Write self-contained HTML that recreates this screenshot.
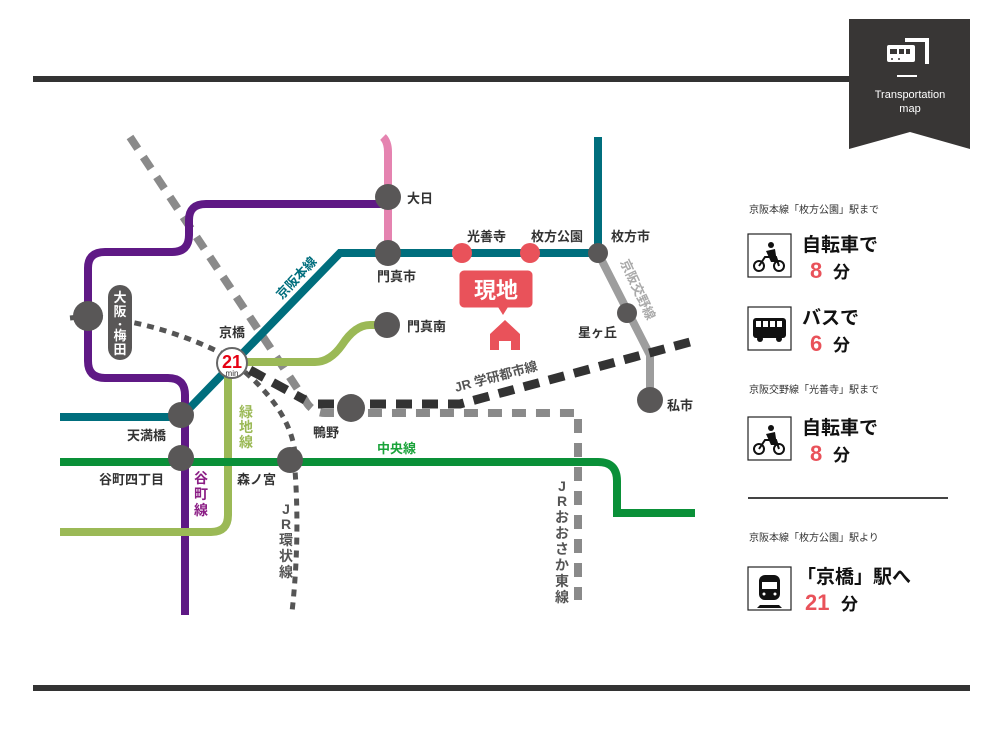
<!DOCTYPE html>
<html><head><meta charset="utf-8"><style>
html,body{margin:0;padding:0;background:#fff;}
svg{display:block;font-family:"Liberation Sans","Noto Sans CJK JP",sans-serif;}
</style></head><body>
<svg width="1000" height="750" viewBox="0 0 1000 750" xmlns="http://www.w3.org/2000/svg">
<rect x="33" y="76" width="817" height="6" fill="#333"/>
<rect x="33" y="685" width="937" height="6" fill="#333"/>
<polygon points="849,19 970,19 970,149 910,132 849,149" fill="#383635"/>
<g fill="#fff">
<rect x="887" y="45" width="28" height="17" rx="2"/>
<rect x="905" y="38" width="24" height="4"/>
<rect x="925" y="38" width="4" height="26"/>
<rect x="897" y="75" width="20" height="2"/>
</g>
<g fill="#383635"><rect x="890" y="49" width="7" height="5"/><rect x="899" y="49" width="5" height="5"/><rect x="906" y="49" width="4" height="5"/><circle cx="892" cy="59" r="1"/><circle cx="899" cy="59" r="1"/></g>
<text x="910" y="98" font-size="11" fill="#fff" text-anchor="middle">Transportation</text>
<text x="910" y="112" font-size="11" fill="#fff" text-anchor="middle">map</text>

<path d="M130,137 L305,400 Q312,413 325,413 L578,413 L578,600" fill="none" stroke="#8a8a8a" stroke-width="8" stroke-dasharray="14,10"/>
<path d="M185,615 L185,395 Q185,378 168,378 L105,378 Q88,378 88,361 L88,268 Q88,252 105,252 L172,252 Q189,252 189,235 L189,220 Q189,204 206,204 L388,204" fill="none" stroke="#5f1985" stroke-width="8"/>
<path d="M383,137 Q388,142 388,152 L388,253" fill="none" stroke="#e583b0" stroke-width="8"/>
<path d="M60,417 L181,417 L340,253 L598,253 L598,137" fill="none" stroke="#006e7d" stroke-width="8"/>
<path d="M598,253 L650,355 L650,400" fill="none" stroke="#9d9d9d" stroke-width="8"/>
<path d="M232,362 L315,362 Q330,362 342,345 Q355,325 370,325 L385,325" fill="none" stroke="#9bb956" stroke-width="8"/>
<path d="M228,362 L228,515 Q228,532 211,532 L60,532" fill="none" stroke="#9bb956" stroke-width="8"/>
<path d="M60,462 L598,462 Q617,462 617,481 L617,513 L695,513" fill="none" stroke="#0a9038" stroke-width="8"/>
<path d="M70,318 L88,316 Q160,322 225,355" fill="none" stroke="#555" stroke-width="5" stroke-dasharray="7,6"/>
<path d="M245,372 Q300,420 295,470 Q300,540 292,612" fill="none" stroke="#555" stroke-width="5" stroke-dasharray="7,6"/>
<path d="M250,370 L305,400 M318,404 L460,404 L690,342" fill="none" stroke="#333" stroke-width="9" stroke-dasharray="16,10"/>

<g fill="#595757">
<circle cx="88" cy="316" r="15"/>
<circle cx="181" cy="415" r="13"/>
<circle cx="181" cy="458" r="13"/>
<circle cx="290" cy="460" r="13"/>
<circle cx="351" cy="408" r="14"/>
<circle cx="388" cy="253" r="13"/>
<circle cx="388" cy="197" r="13"/>
<circle cx="387" cy="325" r="13"/>
<circle cx="598" cy="253" r="10"/>
<circle cx="627" cy="313" r="10"/>
<circle cx="650" cy="400" r="13"/>
</g>
<g fill="#e9525a"><circle cx="462" cy="253" r="10"/><circle cx="530" cy="253" r="10"/></g>
<circle cx="232" cy="363" r="15" fill="#fff" stroke="#666" stroke-width="2"/>
<text x="232" y="368" font-size="18" font-weight="bold" fill="#e60012" text-anchor="middle">21</text>
<text x="232" y="376" font-size="8" fill="#333" text-anchor="middle">min</text>

<rect x="108" y="285" width="24" height="75" rx="12" fill="#595757"/>
<g font-size="13" font-weight="bold" fill="#fff" text-anchor="middle">
<text x="120" y="302">大</text><text x="120" y="316">阪</text><text x="120" y="328" font-size="10">・</text><text x="120" y="340">梅</text><text x="120" y="354">田</text>
</g>

<g font-size="13" font-weight="bold" fill="#333">
<text x="219" y="337">京橋</text>
<text x="127" y="440">天満橋</text>
<text x="99" y="484">谷町四丁目</text>
<text x="237" y="484">森ノ宮</text>
<text x="313" y="437">鴨野</text>
<text x="407" y="203">大日</text>
<text x="377" y="281">門真市</text>
<text x="407" y="331">門真南</text>
<text x="467" y="241">光善寺</text>
<text x="531" y="241">枚方公園</text>
<text x="611" y="241">枚方市</text>
<text x="578" y="337">星ヶ丘</text>
<text x="667" y="410">私市</text>
<text x="377" y="453" fill="#1aa33a">中央線</text>
</g>
<text transform="translate(282,300) rotate(-47)" font-size="13" font-weight="bold" fill="#006e7d">京阪本線</text>
<text transform="translate(456,392) rotate(-15)" font-size="13" font-weight="bold" fill="#555">JR 学研都市線</text>
<g font-size="14" font-weight="bold" text-anchor="middle">
<g fill="#9bb956"><text x="246" y="417">緑</text><text x="246" y="432">地</text><text x="246" y="447">線</text></g>
<g fill="#8b1e85"><text x="201" y="483">谷</text><text x="201" y="499">町</text><text x="201" y="515">線</text></g>
</g>
<g font-size="14" fill="#555" text-anchor="middle" font-weight="bold">
<text x="286" y="514">J</text><text x="286" y="529">R</text><text x="286" y="545">環</text><text x="286" y="561">状</text><text x="286" y="577">線</text>
<text x="562" y="491">J</text><text x="562" y="506">R</text><text x="562" y="522">お</text><text x="562" y="538">お</text><text x="562" y="554">さ</text><text x="562" y="570">か</text><text x="562" y="586">東</text><text x="562" y="602">線</text>
</g>
<g font-size="13" fill="#aaa" font-weight="bold" transform="translate(620,262) rotate(65)">
<text x="0" y="0">京阪交野線</text>
</g>

<rect x="459" y="270" width="74" height="38" rx="5" fill="#e9525a" stroke="#fff" stroke-width="1"/>
<polygon points="498,307 508,307 503,315" fill="#e9525a"/>
<text x="496" y="298" font-size="22" font-weight="bold" fill="#fff" text-anchor="middle">現地</text>
<polygon points="505,320 520,334 520,350 511,350 511,341 499,341 499,350 490,350 490,334" fill="#e9525a"/>

<g font-size="10" fill="#333">
<text x="749" y="213">京阪本線「枚方公園」駅まで</text>
<text x="749" y="393">京阪交野線「光善寺」駅まで</text>
<text x="749" y="541">京阪本線「枚方公園」駅より</text>
</g>
<rect x="748" y="497" width="200" height="2" fill="#444"/>
<g fill="none" stroke="#222" stroke-width="1.2">
<rect x="748" y="234" width="43" height="43"/>
<rect x="748" y="307" width="43" height="43"/>
<rect x="748" y="417" width="43" height="43"/>
<rect x="748" y="567" width="43" height="43"/>
</g>
<g fill="none" stroke="#111" stroke-width="2">
<circle cx="759" cy="266" r="5"/><circle cx="779" cy="266" r="5"/>
<path d="M759,266 L765,257 L776,257 L779,266" />
</g>
<circle cx="771" cy="245" r="3" fill="#111"/><path d="M766,251 L775,249 L777,262 L771,262 Z" fill="#111"/>
<g fill="none" stroke="#111" stroke-width="2">
<circle cx="759" cy="449" r="5"/><circle cx="779" cy="449" r="5"/>
<path d="M759,449 L765,440 L776,440 L779,449"/>
</g>
<circle cx="771" cy="428" r="3" fill="#111"/><path d="M766,434 L775,432 L777,445 L771,445 Z" fill="#111"/>
<rect x="753" y="318" width="33" height="20" rx="3" fill="#111"/>
<g fill="#fff"><rect x="756" y="321" width="5" height="6"/><rect x="763" y="321" width="5" height="6"/><rect x="770" y="321" width="5" height="6"/><rect x="777" y="321" width="5" height="6"/></g>
<circle cx="760" cy="339" r="3" fill="#111"/><circle cx="779" cy="339" r="3" fill="#111"/>
<rect x="759" y="575" width="21" height="25" rx="6" fill="#111"/>
<rect x="762" y="582" width="15" height="7" fill="#fff"/>
<circle cx="764" cy="594" r="1.5" fill="#fff"/><circle cx="775" cy="594" r="1.5" fill="#fff"/>
<path d="M760,605 L779,605 L782,608 L757,608 Z" fill="#111"/>

<g font-size="19" font-weight="bold" fill="#111">
<text x="802" y="251">自転車で</text>
<text x="802" y="324">バスで</text>
<text x="802" y="434">自転車で</text>
<text x="797" y="583">「京橋」駅へ</text>
</g>
<g font-weight="bold">
<text x="810" y="278" font-size="22" fill="#e9525a">8</text><text x="833" y="278" font-size="17" fill="#111">分</text>
<text x="810" y="351" font-size="22" fill="#e9525a">6</text><text x="833" y="351" font-size="17" fill="#111">分</text>
<text x="810" y="461" font-size="22" fill="#e9525a">8</text><text x="833" y="461" font-size="17" fill="#111">分</text>
<text x="805" y="610" font-size="22" fill="#e9525a">21</text><text x="841" y="610" font-size="17" fill="#111">分</text>
</g>
</svg>
</body></html>
